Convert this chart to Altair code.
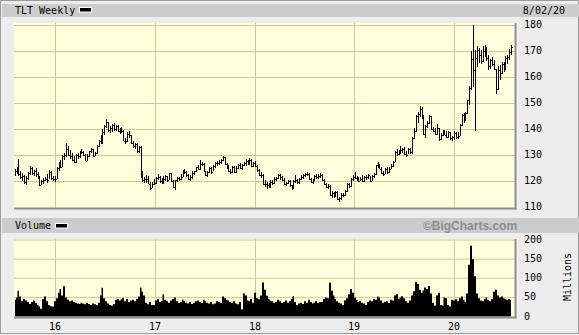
import altair as alt
import numpy as np
import pandas as pd

# ---------------- data (weekly bars, Aug 2015 - Jul 2020) ----------------
high = [
    # 2015
    124.6, 125.3, 128.6, 124.0, 122.9, 122.3, 122.0, 123.6, 125.8, 125.2, 124.3, 125.0, 123.3, 122.0, 120.2, 121.3, 121.6, 122.8, 124.3, 123.9, 122.0,
    # 2016
    121.9, 125.2, 127.3, 128.0, 129.9, 130.8, 134.6, 133.5, 131.8, 130.9, 129.6, 130.5, 130.7, 131.5, 132.3, 131.6, 130.4, 130.2, 131.5, 132.6, 132.4, 131.2, 133.7, 135.6, 137.5, 139.8, 141.6, 143.6, 142.6, 141.0, 142.0, 142.2, 141.6, 141.3, 140.4, 140.8, 139.4, 136.6, 138.6, 139.1, 137.8, 135.4, 134.7, 134.4, 133.6, 133.4, 123.7, 121.6, 122.3, 121.8, 119.6, 119.5, 120.9,
    # 2017
    121.6, 122.5, 122.0, 121.0, 121.8, 122.3, 121.8, 123.1, 123.0, 120.2, 120.5, 121.6, 121.6, 122.8, 124.2, 124.6, 123.8, 122.6, 122.3, 123.8, 124.0, 125.4, 126.3, 128.0, 127.4, 126.7, 124.0, 123.9, 125.2, 125.2, 126.0, 127.2, 127.5, 128.0, 128.6, 129.6, 129.2, 126.9, 126.0, 124.6, 125.7, 125.6, 125.6, 126.6, 126.7, 126.6, 127.2, 128.4, 128.0, 128.8, 128.5, 127.4,
    # 2018
    127.6, 126.0, 124.6, 123.3, 122.6, 120.3, 119.6, 119.4, 120.4, 120.4, 121.4, 121.6, 122.6, 122.5, 121.8, 121.2, 119.6, 120.3, 120.2, 118.6, 120.4, 122.3, 120.7, 121.3, 122.3, 122.6, 123.1, 123.4, 123.1, 121.3, 120.6, 122.4, 122.6, 122.8, 123.0, 122.5, 120.6, 119.2, 118.7, 118.4, 116.2, 115.8, 116.3, 116.1, 113.9, 115.2, 115.4, 116.4, 119.1, 119.3, 121.2, 122.4,
    # 2019
    123.4, 121.8, 121.6, 121.5, 122.2, 121.8, 122.1, 122.5, 122.0, 122.3, 122.9, 126.3, 127.3, 126.4, 125.3, 124.0, 124.9, 125.4, 125.3, 126.6, 127.8, 131.4, 132.2, 131.9, 133.5, 132.6, 133.0, 131.5, 132.6, 132.6, 136.7, 140.2, 145.3, 146.4, 148.9, 148.5, 145.3, 141.6, 143.0, 145.2, 145.0, 140.7, 140.2, 141.7, 140.4, 138.3, 139.4, 139.7, 139.2, 139.3, 138.6, 137.2,
    # 2020
    139.0, 138.8, 138.6, 141.8, 145.8, 146.0, 146.4, 151.2, 156.4, 169.8, 179.7, 170.4, 171.6, 171.0, 170.2, 171.8, 172.2, 171.3, 168.4, 166.9, 167.4, 166.3, 163.0, 164.0, 164.4, 165.8, 165.5, 167.8, 168.4, 170.6, 172.3,
]
low = [
    # 2015
    121.9, 122.6, 122.0, 120.6, 120.1, 119.0, 118.6, 120.5, 122.2, 122.3, 121.9, 121.6, 120.6, 118.2, 118.3, 119.0, 119.8, 119.3, 120.6, 120.2, 119.8,
    # 2016
    119.7, 120.9, 123.9, 124.8, 125.2, 128.0, 129.3, 129.6, 128.4, 127.6, 126.8, 126.9, 128.6, 128.7, 130.4, 129.5, 127.5, 127.6, 129.1, 130.6, 129.0, 129.4, 130.3, 133.1, 134.2, 134.0, 137.8, 140.4, 138.9, 138.5, 138.9, 139.3, 139.2, 138.6, 138.2, 138.3, 135.3, 134.3, 134.9, 136.6, 134.2, 132.6, 132.4, 130.9, 130.9, 121.1, 119.6, 119.2, 119.3, 118.7, 116.6, 117.2, 118.6,
    # 2017
    118.9, 120.3, 119.4, 118.7, 119.0, 120.0, 119.6, 120.4, 119.5, 117.4, 116.5, 119.6, 119.9, 120.2, 121.5, 122.8, 121.6, 120.5, 119.9, 120.8, 122.4, 123.3, 124.1, 124.3, 125.8, 123.3, 121.9, 121.6, 123.2, 122.7, 124.0, 125.0, 125.6, 126.0, 126.5, 127.6, 126.3, 124.6, 123.4, 122.8, 123.2, 123.1, 123.2, 124.6, 124.5, 124.3, 125.6, 125.6, 126.0, 126.2, 125.4, 125.2,
    # 2018
    125.3, 123.4, 121.9, 121.2, 118.6, 117.6, 117.0, 117.1, 117.4, 118.3, 119.0, 119.8, 120.6, 120.4, 120.1, 118.6, 117.9, 118.8, 117.8, 116.6, 116.9, 119.3, 118.7, 119.0, 120.2, 120.9, 121.6, 121.9, 120.4, 119.2, 118.8, 120.1, 120.7, 120.9, 121.2, 119.8, 118.6, 117.4, 116.9, 114.3, 113.6, 113.4, 113.8, 112.7, 111.9, 112.6, 113.7, 114.1, 115.7, 117.1, 117.8, 119.9,
    # 2019
    120.6, 119.9, 119.7, 119.8, 119.7, 119.6, 120.3, 120.7, 119.7, 119.8, 121.3, 122.2, 124.9, 124.4, 122.8, 122.0, 122.6, 122.7, 123.2, 124.4, 125.4, 127.3, 129.7, 129.8, 130.2, 130.7, 129.9, 129.2, 130.3, 130.5, 130.2, 136.2, 138.6, 142.4, 144.7, 143.7, 137.6, 136.6, 140.5, 141.9, 139.5, 138.6, 137.6, 137.6, 135.5, 135.7, 137.3, 137.5, 136.4, 136.5, 135.9, 135.4,
    # 2020
    135.6, 136.0, 136.2, 137.3, 140.9, 142.4, 143.0, 145.6, 149.3, 155.0, 156.0, 139.2, 163.8, 165.4, 164.8, 165.5, 167.6, 166.0, 162.6, 163.1, 164.0, 162.4, 153.4, 154.8, 158.7, 161.0, 161.7, 162.5, 165.0, 166.6, 168.4,
]
close = [
    # 2015
    123.8, 124.9, 122.8, 121.4, 121.9, 119.6, 121.3, 122.9, 124.9, 122.9, 123.8, 122.5, 121.2, 118.6, 119.8, 120.4, 120.9, 120.2, 123.6, 121.0, 120.8,
    # 2016
    120.6, 124.8, 126.5, 125.4, 129.5, 129.8, 132.4, 130.1, 129.7, 128.2, 127.4, 129.8, 129.6, 131.1, 131.0, 129.9, 127.8, 129.6, 131.3, 132.1, 129.7, 130.7, 133.5, 135.4, 135.2, 138.6, 141.1, 142.5, 139.6, 140.3, 141.5, 139.8, 140.9, 139.1, 139.6, 139.0, 135.5, 135.3, 138.1, 137.7, 134.5, 133.4, 134.1, 131.3, 132.9, 121.8, 120.4, 120.7, 120.9, 119.0, 117.4, 118.8, 119.1,
    # 2017
    121.0, 121.6, 119.9, 119.2, 120.9, 121.9, 120.4, 122.9, 119.8, 117.8, 120.2, 121.2, 120.7, 121.6, 123.9, 123.5, 122.1, 120.8, 121.5, 123.2, 123.7, 125.2, 124.6, 126.6, 126.5, 123.6, 122.3, 123.6, 125.0, 123.4, 125.6, 126.8, 126.9, 127.4, 128.0, 129.0, 126.5, 125.2, 123.7, 123.5, 125.4, 123.5, 125.1, 126.3, 124.9, 126.1, 126.9, 127.6, 126.5, 128.2, 125.7, 127.0,
    # 2018
    125.6, 124.2, 122.2, 122.4, 118.9, 119.0, 118.6, 118.2, 119.6, 119.4, 120.9, 121.2, 122.1, 121.4, 120.5, 118.9, 119.3, 119.8, 118.4, 117.1, 120.1, 120.3, 119.6, 120.6, 121.6, 122.3, 122.6, 122.8, 120.7, 119.6, 120.3, 121.9, 121.5, 121.8, 122.3, 120.2, 118.9, 117.6, 118.2, 114.7, 115.5, 114.1, 115.9, 113.0, 113.4, 114.6, 114.7, 116.0, 118.7, 117.9, 120.8, 121.5,
    # 2019
    121.3, 121.0, 120.1, 120.7, 120.0, 121.5, 121.6, 122.1, 119.9, 122.0, 122.6, 126.1, 126.0, 124.6, 123.0, 122.6, 124.6, 123.6, 124.6, 125.9, 127.4, 131.0, 130.3, 131.2, 131.8, 132.1, 130.4, 129.9, 132.3, 131.0, 136.4, 139.0, 144.9, 145.5, 147.6, 145.4, 138.2, 141.2, 142.3, 144.8, 139.8, 139.0, 138.1, 140.3, 136.0, 137.6, 138.6, 137.8, 137.0, 138.6, 136.3, 136.7,
    # 2020
    138.4, 137.0, 137.4, 141.4, 145.3, 144.2, 145.9, 150.9, 155.8, 166.9, 162.4, 167.2, 170.3, 168.2, 166.0, 169.8, 170.9, 167.2, 164.0, 166.5, 165.0, 163.0, 155.4, 162.6, 161.3, 164.9, 163.7, 167.0, 167.5, 169.6, 171.3,
]
volume = [
    # 2015
    44, 50, 67, 52, 40, 46, 42, 38, 33, 38, 42, 35, 30, 26, 20, 45, 52, 40, 30, 27, 26,
    # 2016
    40, 48, 62, 72, 55, 79, 50, 44, 40, 42, 38, 36, 34, 33, 36, 34, 32, 35, 33, 30, 34, 32, 30, 36, 55, 75, 48, 40, 34, 30, 28, 32, 44, 46, 42, 45, 48, 40, 46, 38, 42, 44, 40, 46, 52, 76, 65, 55, 36, 32, 38, 30, 30,
    # 2017
    42, 45, 38, 40, 58, 44, 40, 36, 42, 46, 50, 40, 35, 38, 44, 40, 36, 34, 38, 33, 36, 40, 42, 38, 35, 44, 40, 36, 34, 38, 32, 34, 40, 38, 36, 52, 48, 44, 42, 38, 36, 40, 34, 32, 38, 19, 60, 55, 42, 40, 46, 36,
    # 2018
    62, 48, 45, 55, 89, 70, 54, 46, 42, 40, 36, 38, 44, 40, 35, 38, 42, 36, 40, 46, 53, 38, 30, 34, 36, 33, 40, 36, 44, 38, 34, 36, 40, 35, 38, 38, 46, 50, 48, 88, 67, 55, 45, 40, 36, 34, 30, 42, 48, 58, 72, 62,
    # 2019
    50, 44, 38, 40, 36, 34, 30, 38, 42, 40, 46, 44, 52, 50, 42, 36, 38, 40, 35, 44, 42, 55, 58, 46, 50, 53, 48, 40, 36, 42, 55, 66, 90, 85, 70, 62, 68, 76, 72, 80, 60, 35, 28, 55, 62, 30, 28, 50, 48, 30, 26, 44,
    # 2020
    42, 45, 40, 48, 52, 44, 38, 60, 135, 185, 150, 105, 60, 48, 42, 40, 45, 50, 44, 40, 46, 65, 70, 55, 50, 52, 48, 45, 44, 46, 43,
]
price_ticks = [110, 120, 130, 140, 150, 160, 170, 180]
price_grid = [120, 130, 140, 150, 160, 170, 180]
volume_ticks = [0, 50, 100, 150, 200]
volume_grid = [50, 100, 150, 200]
year_ticks = [2016, 2017, 2018, 2019, 2020]
year_labels = ["16", "17", "18", "19", "20"]

# ---------------- tables ----------------
dates = pd.date_range("2015-08-05", periods=len(close), freq="W-WED")
days_in_year = np.where(dates.is_leap_year, 366.0, 365.0)
t = dates.year + (dates.dayofyear - 1) / days_in_year
bars = pd.DataFrame({"t": t, "high": high, "low": low, "close": close, "vol": volume})
p_grid_df = pd.DataFrame({"v": price_grid})
p_lab_df = pd.DataFrame({"v": price_ticks, "lab": [str(v) for v in price_ticks]})
v_grid_df = pd.DataFrame({"v": volume_grid})
v_lab_df = pd.DataFrame({"v": volume_ticks, "lab": [str(v) for v in volume_ticks]})
yr_df = pd.DataFrame({"yr": year_ticks, "lab": year_labels})
one = pd.DataFrame({"a": [0]})

# ---------------- style ----------------
BG = "#EDEDED"
BAND = "#CCCCCC"
PLOT = "#FFFFDD"
GRID = "#CACA96"
EDGE = "#8E8E8E"
MONO = "DejaVu Sans Mono"
SANS = "Liberation Sans"

X_SCALE = alt.Scale(domain=[2015.5857, 2020.612], range=[14, 515], nice=False, zero=False, round=True)
P_SCALE = alt.Scale(domain=[110, 180], range=[207, 24.6], nice=False, zero=False, round=True)
V_SCALE = alt.Scale(domain=[0, 200], range=[316.5, 240], nice=False, zero=False)

X = alt.X("t:Q", scale=X_SCALE, axis=None)
XYR = alt.X("yr:Q", scale=X_SCALE, axis=None)


def rect(x1, x2, y1, y2, color, **kw):
    return alt.Chart(one).mark_rect(color=color, **kw).encode(
        x=alt.value(x1), x2=alt.value(x2), y=alt.value(y1), y2=alt.value(y2)
    )


def label(s, x, y, **kw):
    return alt.Chart(one).mark_text(text=s, **kw).encode(x=alt.value(x), y=alt.value(y))


layers = [
    # frame and header bands
    rect(0.5, 578.5, 0.5, 333.5, BG, stroke="#9A9A9A", strokeWidth=1),
    rect(2, 579, 4, 17, BAND),
    rect(2, 579, 218, 233, BAND),
    # plot areas
    rect(14, 515, 23, 208, PLOT),
    rect(14, 515, 239, 317, PLOT),
    # price grid
    alt.Chart(p_grid_df).mark_rule(color=GRID, strokeWidth=1, yOffset=0.5).encode(
        y=alt.Y("v:Q", scale=P_SCALE, axis=None), x=alt.value(14), x2=alt.value(515)
    ),
    alt.Chart(yr_df).mark_rule(color=GRID, strokeWidth=1, xOffset=0.5).encode(
        x=XYR, y=alt.value(23), y2=alt.value(208)
    ),
    # volume grid
    alt.Chart(v_grid_df).mark_rule(color=GRID, strokeWidth=1).encode(
        y=alt.Y("v:Q", scale=V_SCALE, axis=None), x=alt.value(14), x2=alt.value(515)
    ),
    alt.Chart(yr_df).mark_rule(color=GRID, strokeWidth=1, xOffset=0.5).encode(
        x=XYR, y=alt.value(239), y2=alt.value(317)
    ),
    # price bars (high-low) and close ticks
    alt.Chart(bars).mark_rule(color="black", strokeWidth=1, xOffset=0.5).encode(
        x=X, y=alt.Y("high:Q", scale=P_SCALE, axis=None), y2="low:Q"
    ),
    alt.Chart(bars).mark_rule(color="black", strokeWidth=1, xOffset=1, x2Offset=2, yOffset=0.5).encode(
        x=X, x2="t:Q", y=alt.Y("close:Q", scale=P_SCALE, axis=None)
    ),
    # volume area
    alt.Chart(bars).mark_area(color="black", interpolate="step").encode(
        x=X, y=alt.Y("vol:Q", scale=V_SCALE, axis=None), y2=alt.Y2(datum=0)
    ),
    # panel edges
    rect(14, 516.5, 207.5, 209.5, EDGE),
    rect(514.5, 516.5, 23, 209.5, EDGE),
    rect(14, 516.5, 316.5, 318.5, EDGE),
    rect(514.5, 516.5, 239, 318.5, EDGE),
    # legend swatches
    rect(79, 92, 7, 12.5, "white"),
    rect(80, 91, 8, 11.5, "black"),
    rect(55, 68, 223, 228.5, "white"),
    rect(56, 67, 224, 227.5, "black"),
    # texts
    label("TLT Weekly", 15, 10.5, font=MONO, fontSize=10, align="left", baseline="middle", color="black"),
    label("8/02/20", 565, 10.5, font=MONO, fontSize=10, align="right", baseline="middle", color="black"),
    label("Volume", 15, 226, font=MONO, fontSize=10, align="left", baseline="middle", color="black"),
    label("©BigCharts.com", 470, 226, font=SANS, fontSize=12, fontWeight="bold", align="center",
          baseline="middle", color="#8C8C8C"),
    label("Millions", 568, 277, font=MONO, fontSize=10, align="center", baseline="middle", angle=270,
          color="black"),
    alt.Chart(p_lab_df).mark_text(font=MONO, fontSize=10, align="left", baseline="middle", color="black").encode(
        y=alt.Y("v:Q", scale=P_SCALE, axis=None), x=alt.value(524), text="lab:N"
    ),
    alt.Chart(v_lab_df).mark_text(font=MONO, fontSize=10, align="left", baseline="middle", color="black").encode(
        y=alt.Y("v:Q", scale=V_SCALE, axis=None), x=alt.value(524), text="lab:N"
    ),
    alt.Chart(yr_df).mark_text(font=MONO, fontSize=10, align="center", baseline="middle", color="black").encode(
        x=XYR, y=alt.value(326.5), text="lab:N"
    ),
]

chart = (
    alt.layer(*layers)
    .resolve_scale(y="independent")
    .properties(width=579, height=335, autosize=alt.AutoSizeParams(type="none"), padding=0)
    .configure(background=BG)
    .configure_view(strokeWidth=0)
)

chart.save("out.html", embed_options={"renderer": "svg", "actions": False})
